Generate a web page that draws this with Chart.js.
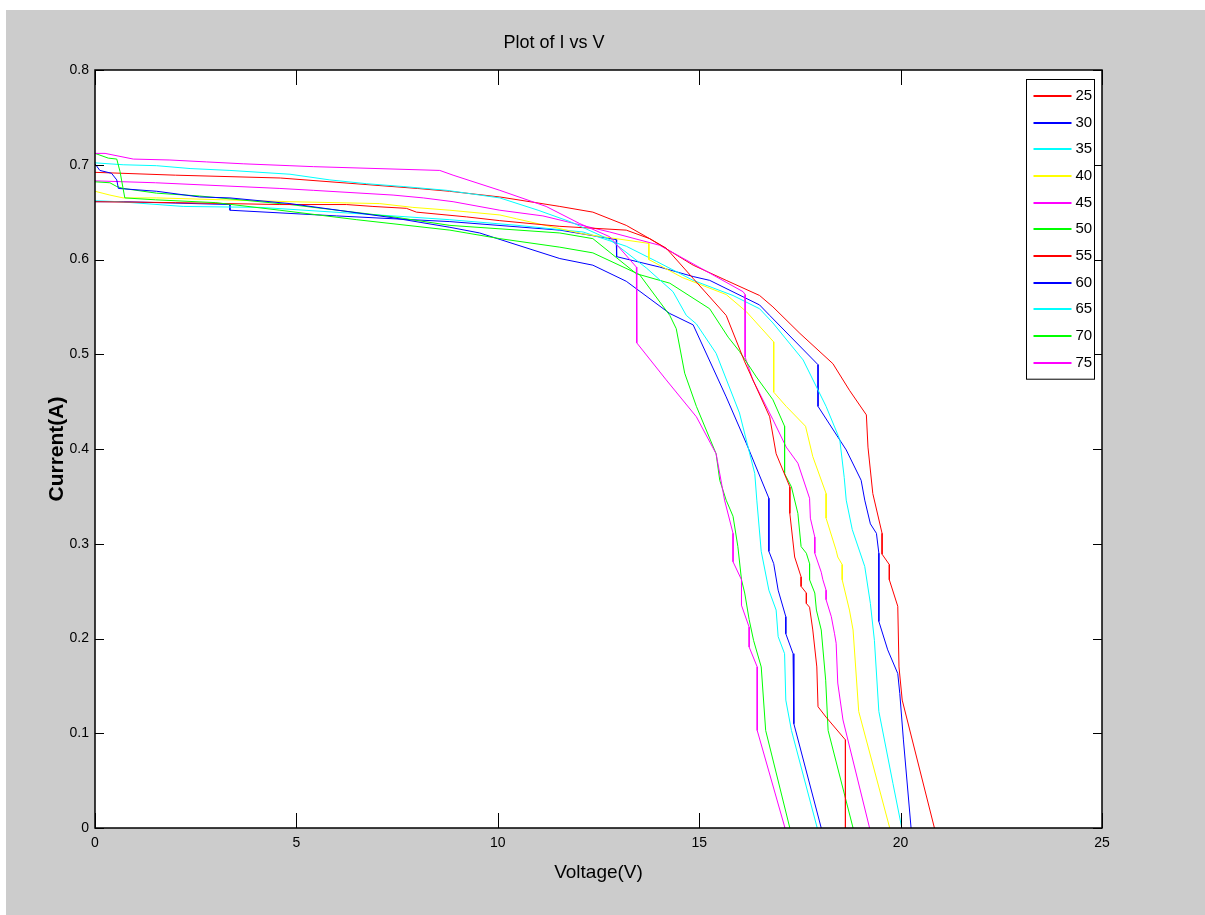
<!DOCTYPE html>
<html>
<head>
<meta charset="utf-8">
<script src="https://cdn.jsdelivr.net/npm/chart.js@4"></script>
<style>
  html, body { margin: 0; padding: 0; background: #ffffff; }
  #fig { position: absolute; left: 6px; top: 10px; width: 1199px; height: 905px; background: #cccccc; }
</style>
</head>
<body>
<div id="fig"><canvas id="chart" width="1199" height="905"></canvas></div>
<script>
// temperature of each I-V curve and its matlab colour
const temps = [25, 30, 35, 40, 45, 50, 55, 60, 65, 70, 75];
const colors = ['#ff0000', '#0000ff', '#00ffff', '#ffff00', '#ff00ff', '#00ff00',
                '#ff0000', '#0000ff', '#00ffff', '#00ff00', '#ff00ff'];

// voltage (V) / current (A) readings per curve
const v25 = [0, 2, 4.6, 8, 8.8, 10.05, 11.54, 12.36, 13.19, 13.77, 14.85, 15.67, 16.5, 16.83, 17.5, 18.32, 18.73, 19.15, 19.19, 19.31, 19.54, 19.54, 19.72, 19.72, 19.93, 19.96, 20.04, 20.84];
const i25 = [0.692, 0.689, 0.686, 0.675, 0.672, 0.666, 0.656, 0.650, 0.636, 0.622, 0.594, 0.578, 0.562, 0.550, 0.522, 0.490, 0.462, 0.436, 0.402, 0.353, 0.311, 0.289, 0.278, 0.262, 0.234, 0.170, 0.135, 0];

const v30 = [0, 0.7, 3.35, 3.35, 6, 8.81, 11.54, 12.94, 12.95, 14.02, 14.85, 15.26, 16.5, 16.75, 17.95, 17.95, 18.65, 19.02, 19.11, 19.25, 19.40, 19.46, 19.46, 19.68, 19.93, 19.98, 20.07, 20.26];
const i30 = [0.661, 0.661, 0.658, 0.652, 0.646, 0.640, 0.631, 0.621, 0.603, 0.592, 0.582, 0.578, 0.552, 0.541, 0.489, 0.445, 0.399, 0.367, 0.346, 0.321, 0.311, 0.290, 0.218, 0.188, 0.163, 0.142, 0.093, 0];

const v35 = [0, 0.6, 2.19, 4.1, 7.4, 8.81, 10.5, 12.12, 13.19, 13.94, 14.85, 15.84, 16.5, 16.83, 17.58, 18.15, 18.49, 18.6, 18.65, 18.80, 19.11, 19.25, 19.35, 19.46, 19.81, 20.03];
const i35 = [0.662, 0.661, 0.656, 0.655, 0.646, 0.642, 0.636, 0.629, 0.614, 0.598, 0.578, 0.562, 0.548, 0.533, 0.494, 0.445, 0.410, 0.370, 0.346, 0.315, 0.276, 0.237, 0.198, 0.123, 0.047, 0];

const v40 = [0, 0.37, 0.7, 1.53, 3.18, 4.84, 7.07, 7.89, 8.81, 10.05, 10.46, 12.12, 13.75, 13.75, 14.58, 15.67, 16.17, 16.85, 16.85, 17.16, 17.64, 17.82, 18.15, 18.15, 18.40, 18.44, 18.55, 18.55, 18.73, 18.82, 18.96, 19.73];
const i40 = [0.672, 0.668, 0.665, 0.665, 0.663, 0.661, 0.659, 0.655, 0.652, 0.647, 0.643, 0.627, 0.617, 0.600, 0.581, 0.563, 0.545, 0.513, 0.460, 0.445, 0.424, 0.392, 0.353, 0.327, 0.293, 0.286, 0.278, 0.262, 0.230, 0.209, 0.123, 0];

const v45 = [0, 1.5, 4.59, 5.42, 7.4, 8.15, 8.89, 10.05, 11.12, 12.78, 14.02, 16.09, 16.14, 16.14, 16.33, 16.83, 17.16, 17.45, 17.74, 17.76, 17.87, 17.87, 18.03, 18.07, 18.15, 18.15, 18.28, 18.36, 18.40, 18.44, 18.57, 19.23];
const i45 = [0.683, 0.681, 0.675, 0.673, 0.668, 0.665, 0.661, 0.652, 0.646, 0.629, 0.615, 0.566, 0.563, 0.497, 0.473, 0.431, 0.402, 0.385, 0.348, 0.327, 0.307, 0.290, 0.270, 0.262, 0.251, 0.241, 0.223, 0.205, 0.195, 0.153, 0.114, 0];

const v50 = [0, 0.37, 0.54, 0.7, 1.53, 2.6, 4.84, 7.4, 8.81, 11.54, 12.36, 13.44, 14.27, 15.26, 15.72, 16.0, 16.42, 16.83, 17.12, 17.12, 17.29, 17.45, 17.53, 17.66, 17.74, 17.74, 17.87, 17.91, 18.03, 18.14, 18.20, 18.82];
const i50 = [0.682, 0.681, 0.677, 0.675, 0.670, 0.667, 0.658, 0.645, 0.636, 0.628, 0.622, 0.585, 0.575, 0.548, 0.518, 0.503, 0.476, 0.452, 0.424, 0.374, 0.360, 0.332, 0.297, 0.290, 0.279, 0.262, 0.248, 0.230, 0.209, 0.156, 0.103, 0];

const v55 = [0, 2, 4.59, 6.24, 6.9, 7.73, 7.98, 9.22, 10.05, 11.54, 13.19, 13.77, 14.18, 14.85, 15.67, 16.13, 16.75, 16.91, 17.25, 17.25, 17.37, 17.53, 17.53, 17.66, 17.66, 17.74, 17.82, 17.92, 17.95, 18.15, 18.63, 18.63];
const i55 = [0.661, 0.660, 0.658, 0.658, 0.656, 0.654, 0.650, 0.645, 0.641, 0.635, 0.631, 0.622, 0.612, 0.580, 0.541, 0.492, 0.434, 0.395, 0.360, 0.332, 0.286, 0.265, 0.255, 0.248, 0.237, 0.233, 0.209, 0.170, 0.128, 0.117, 0.093, 0];

const v60 = [0, 0.12, 0.41, 0.54, 0.58, 1.53, 2.6, 3.35, 4.84, 7.4, 8.81, 9.55, 11.54, 12.36, 13.19, 14.27, 14.85, 15.67, 16.17, 16.73, 16.73, 16.85, 16.96, 17.15, 17.15, 17.33, 17.35, 18.03];
const i60 = [0.701, 0.694, 0.691, 0.684, 0.675, 0.672, 0.666, 0.665, 0.659, 0.644, 0.634, 0.628, 0.601, 0.594, 0.577, 0.543, 0.531, 0.455, 0.406, 0.348, 0.292, 0.279, 0.251, 0.223, 0.205, 0.184, 0.110, 0];

const v65 = [0, 0.7, 1.53, 2.36, 3.35, 4.84, 5.83, 6.74, 7.65, 8.73, 10.05, 11.0, 11.79, 12.78, 13.69, 14.35, 14.68, 14.93, 15.42, 16.0, 16.38, 16.43, 16.54, 16.73, 16.91, 16.96, 17.12, 17.15, 17.29, 17.93];
const i65 = [0.702, 0.700, 0.699, 0.696, 0.694, 0.690, 0.684, 0.680, 0.677, 0.673, 0.665, 0.652, 0.640, 0.621, 0.591, 0.566, 0.541, 0.532, 0.501, 0.438, 0.374, 0.346, 0.292, 0.251, 0.230, 0.202, 0.184, 0.135, 0.103, 0];

const v70 = [0, 0.33, 0.54, 0.62, 0.74, 1.5, 3.0, 4.59, 6.5, 8.81, 10.05, 11.54, 12.36, 13.52, 14.27, 14.43, 14.64, 14.93, 15.42, 15.51, 15.67, 15.84, 15.96, 16.05, 16.13, 16.24, 16.35, 16.54, 16.65, 17.25];
const i70 = [0.712, 0.707, 0.706, 0.693, 0.665, 0.663, 0.660, 0.652, 0.642, 0.631, 0.622, 0.613, 0.607, 0.584, 0.541, 0.527, 0.480, 0.445, 0.395, 0.367, 0.346, 0.329, 0.297, 0.262, 0.248, 0.220, 0.198, 0.170, 0.103, 0];

const v75 = [0, 0.25, 0.95, 1.86, 2.77, 3.68, 4.84, 5.42, 8.56, 8.89, 10.05, 11.2, 12.03, 12.78, 13.44, 13.45, 14.18, 14.93, 15.42, 15.63, 15.84, 15.84, 16.05, 16.05, 16.24, 16.24, 16.44, 16.44, 17.13];
const i75 = [0.712, 0.712, 0.706, 0.705, 0.703, 0.701, 0.699, 0.698, 0.694, 0.689, 0.673, 0.656, 0.638, 0.624, 0.592, 0.512, 0.473, 0.434, 0.395, 0.346, 0.311, 0.281, 0.262, 0.235, 0.212, 0.191, 0.170, 0.103, 0];

const volts = [v25, v30, v35, v40, v45, v50, v55, v60, v65, v70, v75];
const amps = [i25, i30, i35, i40, i45, i50, i55, i60, i65, i70, i75];

const xTicks = [0, 5, 10, 15, 20, 25];
const yTicks = [0, 0.1, 0.2, 0.3, 0.4, 0.5, 0.6, 0.7, 0.8];

const NARROW = '"Liberation Sans Narrow", "Arial Narrow", "Liberation Sans", Arial, sans-serif';

// matlab style box: white axes, inward ticks on all four sides, framed legend top right
const matlabBox = {
  id: 'matlabBox',
  beforeDatasetsDraw(chart) {
    const { ctx, chartArea: a } = chart;
    ctx.save();
    ctx.fillStyle = '#fff';
    ctx.fillRect(a.left, a.top, a.right - a.left, a.bottom - a.top);
    ctx.restore();
  },
  afterDraw(chart) {
    const { ctx, chartArea: a, scales: { x, y } } = chart;
    ctx.save();
    ctx.strokeStyle = '#000';
    ctx.lineWidth = 1;
    ctx.beginPath();
    x.ticks.forEach(t => {
      const px = Math.round(x.getPixelForValue(t.value)) + 0.5;
      ctx.moveTo(px, a.bottom); ctx.lineTo(px, a.bottom - 15);
      ctx.moveTo(px, a.top); ctx.lineTo(px, a.top + 15);
    });
    y.ticks.forEach(t => {
      const py = Math.round(y.getPixelForValue(t.value)) + 0.5;
      ctx.moveTo(a.left, py); ctx.lineTo(a.left + 9, py);
      ctx.moveTo(a.right, py); ctx.lineTo(a.right - 9, py);
    });
    ctx.stroke();

    // legend
    const sets = chart.data.datasets;
    const rowH = 26.7;
    const w = 68, h = sets.length * rowH + 6;
    const lx = Math.round(a.right - 8 - w) + 0.5, ly = Math.round(a.top + 9) + 0.5;
    ctx.fillStyle = '#fff';
    ctx.fillRect(lx, ly, w, h);
    ctx.strokeStyle = '#000';
    ctx.lineWidth = 1;
    ctx.strokeRect(lx, ly, w, h);
    ctx.font = '15px ' + NARROW;
    ctx.textBaseline = 'middle';
    sets.forEach((ds, k) => {
      const cy = Math.round(ly + 3 + rowH * (k + 0.5));
      ctx.strokeStyle = ds.borderColor;
      ctx.lineWidth = 2;
      ctx.beginPath();
      ctx.moveTo(lx + 7, cy); ctx.lineTo(lx + 45, cy);
      ctx.stroke();
      ctx.fillStyle = '#000';
      ctx.fillText(ds.label, lx + 49, cy);
    });

    ctx.strokeStyle = '#000';
    ctx.lineWidth = 1.5;
    ctx.strokeRect(a.left, a.top, a.right - a.left, a.bottom - a.top);
    ctx.restore();
  }
};

const datasets = temps.map((t, k) => ({
  label: String(t),
  data: volts[k].map((v, j) => ({ x: v, y: amps[k][j] })),
  borderColor: colors[k],
  borderWidth: 1,
  pointRadius: 0,
  tension: 0,
  fill: false,
  order: -k
}));

new Chart(document.getElementById('chart'), {
  type: 'line',
  data: { datasets: datasets },
  plugins: [matlabBox],
  options: {
    responsive: false,
    animation: false,
    devicePixelRatio: 1,
    layout: { padding: { left: 0, right: 103, top: 0, bottom: 0 } },
    plugins: {
      legend: { display: false },
      tooltip: { enabled: false },
      title: {
        display: true,
        text: 'Plot of I vs V',
        color: '#000',
        font: { family: NARROW, size: 18, weight: 'normal', lineHeight: 1.2 },
        padding: { top: 22, bottom: 16.4 }
      }
    },
    scales: {
      x: {
        type: 'linear',
        min: 0,
        max: 25,
        afterBuildTicks: s => { s.ticks = xTicks.map(v => ({ value: v })); },
        afterFit: s => { s.height = 87; },
        ticks: { padding: 7, color: '#000', maxRotation: 0, font: { family: NARROW, size: 14 }, callback: v => String(v) },
        grid: { display: false, drawTicks: false },
        border: { display: false },
        title: {
          display: true,
          text: 'Voltage(V)',
          color: '#000',
          font: { family: NARROW, size: 19 },
          padding: { top: 0, bottom: 31 }
        }
      },
      y: {
        type: 'linear',
        min: 0,
        max: 0.8,
        afterBuildTicks: s => { s.ticks = yTicks.map(v => ({ value: v })); },
        afterFit: s => { s.width = 89; },
        ticks: { padding: 6, color: '#000', font: { family: NARROW, size: 14 }, callback: v => v === 0 ? '0' : v.toFixed(1) },
        grid: { display: false, drawTicks: false },
        border: { display: false },
        title: {
          display: true,
          text: 'Current(A)',
          color: '#000',
          font: { family: '"Liberation Sans", Arial, sans-serif', size: 21, weight: 'bold' },
          padding: { top: 39, bottom: 0 }
        }
      }
    }
  }
});
</script>
</body>
</html>
